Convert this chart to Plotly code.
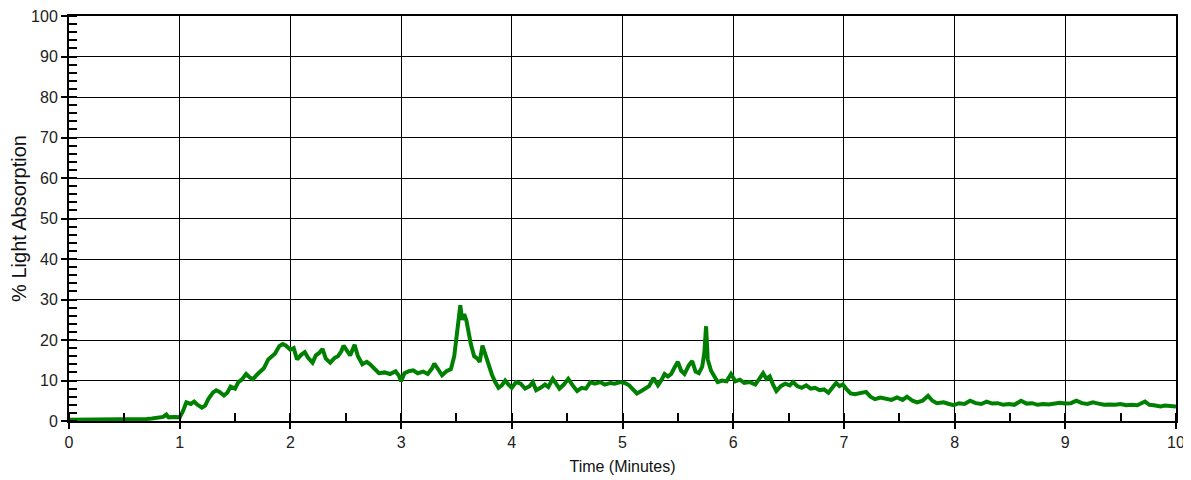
import plotly.graph_objects as go

time_min = [0.00, 0.05, 0.10, 0.15, 0.20, 0.25, 0.30, 0.35, 0.40, 0.45, 0.50, 0.55, 0.60, 0.65, 0.70, 0.75,
            0.80, 0.85, 0.88, 0.90, 0.95, 1.00, 1.03, 1.06, 1.10, 1.13, 1.16, 1.20, 1.23, 1.26, 1.30, 1.33,
            1.36, 1.40, 1.43, 1.46, 1.50, 1.53, 1.56, 1.60, 1.63, 1.66, 1.70, 1.73, 1.76, 1.80, 1.83, 1.86,
            1.90, 1.93, 1.96, 2.00, 2.03, 2.06, 2.10, 2.13, 2.16, 2.20, 2.23, 2.26, 2.29, 2.32, 2.36, 2.40,
            2.43, 2.46, 2.48, 2.51, 2.54, 2.58, 2.61, 2.65, 2.69, 2.72, 2.76, 2.80, 2.85, 2.90, 2.95, 2.98,
            3.00, 3.03, 3.07, 3.11, 3.15, 3.20, 3.24, 3.28, 3.30, 3.33, 3.37, 3.41, 3.45, 3.48, 3.50, 3.52,
            3.535, 3.55, 3.57, 3.59, 3.61, 3.63, 3.66, 3.69, 3.71, 3.735, 3.76, 3.79, 3.82, 3.85, 3.88, 3.91,
            3.94, 3.97, 4.00, 4.04, 4.08, 4.12, 4.16, 4.19, 4.22, 4.26, 4.30, 4.33, 4.37, 4.40, 4.43, 4.47,
            4.51, 4.55, 4.59, 4.63, 4.67, 4.71, 4.75, 4.80, 4.84, 4.89, 4.93, 4.98, 5.02, 5.06, 5.10, 5.13,
            5.17, 5.20, 5.24, 5.28, 5.32, 5.35, 5.38, 5.41, 5.44, 5.47, 5.50, 5.53, 5.56, 5.60, 5.63, 5.66,
            5.69, 5.72, 5.74, 5.755, 5.77, 5.80, 5.83, 5.86, 5.90, 5.94, 5.98, 6.02, 6.06, 6.10, 6.15, 6.20,
            6.24, 6.27, 6.30, 6.33, 6.36, 6.39, 6.43, 6.47, 6.51, 6.54, 6.58, 6.62, 6.66, 6.70, 6.74, 6.78,
            6.82, 6.86, 6.90, 6.93, 6.96, 6.99, 7.02, 7.06, 7.10, 7.15, 7.20, 7.24, 7.28, 7.33, 7.38, 7.43,
            7.48, 7.53, 7.57, 7.62, 7.66, 7.71, 7.76, 7.80, 7.84, 7.90, 7.95, 7.99, 8.04, 8.09, 8.14, 8.19,
            8.24, 8.29, 8.34, 8.39, 8.44, 8.49, 8.54, 8.60, 8.65, 8.70, 8.75, 8.80, 8.85, 8.90, 8.95, 9.00,
            9.05, 9.10, 9.15, 9.20, 9.25, 9.30, 9.35, 9.40, 9.45, 9.50, 9.55, 9.60, 9.65, 9.72, 9.76, 9.80,
            9.86, 9.90, 9.95, 10.00]

absorption = [0.3, 0.3, 0.4, 0.5, 0.4, 0.5, 0.4, 0.5, 0.4, 0.5, 0.4, 0.5, 0.5, 0.4, 0.5, 0.6,
              0.8, 1.0, 1.6, 0.9, 1.0, 0.9, 2.5, 4.6, 4.2, 4.8, 4.0, 3.3, 3.8, 5.5, 7.0, 7.6,
              7.2, 6.3, 7.0, 8.5, 8.0, 9.6, 10.2, 11.6, 10.8, 10.3, 11.5, 12.2, 13.0, 15.2, 15.8, 16.6,
              18.5, 19.0, 18.6, 17.6, 18.0, 15.2, 16.4, 17.0, 15.6, 14.4, 16.2, 16.8, 17.8, 15.4, 14.4, 15.6,
              16.0, 17.2, 18.6, 17.4, 16.2, 18.8, 16.0, 14.0, 14.6, 14.0, 12.8, 11.8, 12.0, 11.6, 12.3, 11.2,
              9.8, 11.8, 12.3, 12.5, 11.8, 12.2, 11.6, 13.0, 14.2, 12.8, 11.3, 12.3, 12.8, 16.0, 20.5, 26.0,
              28.6, 25.0, 26.4, 24.8, 21.5, 19.0, 16.0, 15.4, 14.6, 18.6, 16.5, 13.8, 11.5, 9.6, 8.2, 8.8,
              10.0, 9.0, 8.2, 9.6, 9.2, 8.0, 8.6, 9.6, 7.6, 8.2, 9.0, 8.4, 10.4, 9.2, 8.0, 9.0,
              10.4, 8.8, 7.4, 8.2, 8.0, 9.6, 9.2, 9.6, 9.0, 9.4, 9.2, 9.6, 9.4, 8.8, 7.6, 6.8,
              7.4, 7.8, 8.6, 10.6, 8.8, 10.0, 11.6, 11.0, 11.6, 13.2, 14.6, 12.4, 11.6, 13.8, 14.8, 12.2,
              11.8, 13.4, 17.0, 23.4, 15.2, 12.4, 10.8, 9.6, 10.0, 9.8, 11.6, 9.8, 10.2, 9.4, 9.6, 9.0,
              10.6, 11.8, 10.4, 11.0, 9.0, 7.4, 8.6, 9.2, 8.8, 9.6, 8.6, 8.2, 8.8, 8.0, 8.2, 7.6,
              7.8, 7.0, 8.4, 9.4, 8.6, 9.0, 8.0, 6.8, 6.6, 7.0, 7.2, 6.0, 5.4, 5.8, 5.4, 5.2,
              5.8, 5.2, 6.0, 5.0, 4.6, 5.0, 6.2, 5.0, 4.4, 4.6, 4.2, 3.9, 4.4, 4.2, 5.0, 4.4,
              4.2, 4.8, 4.3, 4.4, 4.0, 4.2, 4.0, 5.0, 4.3, 4.4, 4.0, 4.2, 4.1, 4.4, 4.5, 4.3,
              4.4, 5.0, 4.4, 4.2, 4.6, 4.3, 4.0, 4.1, 4.0, 4.2, 3.9, 4.0, 3.9, 4.8, 4.0, 3.9,
              3.6, 3.8, 3.7, 3.6]

x_ticks = [0, 1, 2, 3, 4, 5, 6, 7, 8, 9, 10]
y_ticks = [0, 10, 20, 30, 40, 50, 60, 70, 80, 90, 100]

fig = go.Figure()
fig.add_trace(go.Scatter(
    x=time_min, y=absorption, mode="lines",
    line=dict(color="#008000", width=4),
    showlegend=False, hoverinfo="skip",
))

font_family = "Liberation Sans, Arial, sans-serif"

fig.update_layout(
    width=1183, height=472,
    margin=dict(l=61, r=15, t=8, b=59, autoexpand=False),
    paper_bgcolor="white", plot_bgcolor="white",
    font=dict(family=font_family, size=16, color="#222222"),
    xaxis=dict(
        range=[0, 10], tickvals=x_ticks, ticktext=[str(v) for v in x_ticks],
        showgrid=True, gridcolor="#000000", gridwidth=1.3,
        showline=True, linecolor="#000000", linewidth=2, mirror=True,
        ticks="outside", ticklen=6, tickcolor="#000000", tickwidth=1.5,
        minor=dict(ticks="inside", dtick=0.5, ticklen=8, tickcolor="#000000", tickwidth=1.5, showgrid=False),
        zeroline=False, automargin=False, ticklabeloverflow="allow",
        title=dict(text="Time (Minutes)", font=dict(size=16, color="#111111"), standoff=11),
        tickfont=dict(size=16),
    ),
    yaxis=dict(
        range=[0, 100], tickvals=y_ticks, ticktext=[str(v) for v in y_ticks],
        showgrid=True, gridcolor="#000000", gridwidth=1.3,
        showline=True, linecolor="#000000", linewidth=2, mirror=True,
        ticks="outside", ticklen=6, tickcolor="#000000", tickwidth=1.5,
        minor=dict(ticks="inside", dtick=2, ticklen=8, tickcolor="#000000", tickwidth=1.5, showgrid=False),
        zeroline=False, automargin=False, ticklabeloverflow="allow",
        title=dict(text="% Light Absorption", font=dict(size=20, color="#111111"), standoff=6),
        tickfont=dict(size=16),
    ),
)

fig.write_html("out.html")
